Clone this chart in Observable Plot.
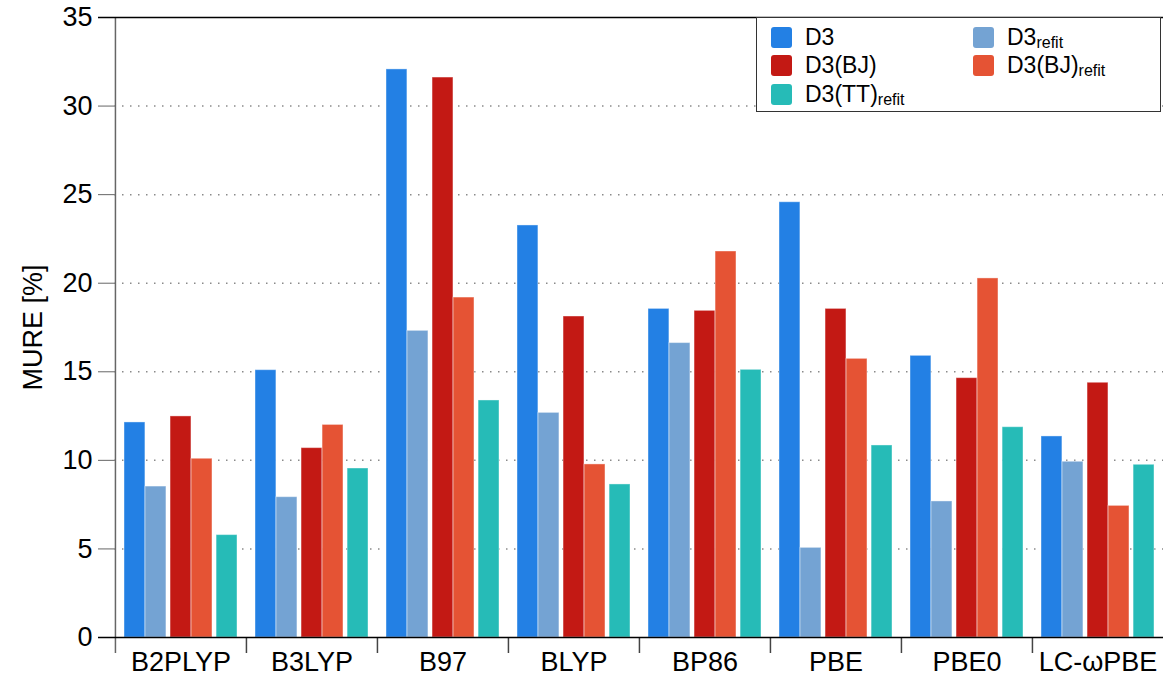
<!DOCTYPE html>
<html>
<head>
<meta charset="utf-8">
<script src="https://cdn.jsdelivr.net/npm/d3@7"></script>
<script src="https://cdn.jsdelivr.net/npm/@observablehq/plot@0.6"></script>
<style>
  body { margin: 0; background: #fff; font-family: "Liberation Sans", Arial, Helvetica, sans-serif; }
  #wrap { position: relative; width: 1163px; height: 681px; }
  #wrap svg { position: absolute; left: 0; top: 0; }
  .legend { position: absolute; left: 756px; top: 17px; width: 405px; height: 95px;
            box-sizing: border-box; border: 1.5px solid #333; background: #fff; }
  .item { position: absolute; display: flex; align-items: center; height: 24px;
          font-size: 23px; color: #000; white-space: nowrap; }
  .sw { width: 21px; height: 21px; border-radius: 3px; margin-right: 13px; flex: none; }
  .sub { font-size: 16px; position: relative; top: 6px; }
</style>
</head>
<body>
<div id="wrap"></div>
<script>
// Functionals on the x axis
const functionals = ["B2PLYP", "B3LYP", "B97", "BLYP", "BP86", "PBE", "PBE0", "LC-ωPBE"];

// MURE [%] per dispersion correction, in functional order
const d3Values      = [12.14, 15.09, 32.07, 23.26, 18.55, 24.57, 15.90, 11.35];
const d3RefitValues = [ 8.52,  7.92, 17.31, 12.68, 16.62,  5.06,  7.68,  9.92];
const bjValues      = [12.48, 10.69, 31.61, 18.12, 18.44, 18.55, 14.64, 14.38];
const bjRefitValues = [10.09, 12.00, 19.19,  9.77, 21.79, 15.73, 20.27,  7.43];
const ttRefitValues = [ 5.78,  9.54, 13.38,  8.64, 15.11, 10.84, 11.87,  9.75];

// Y axis ticks
const yTicks = [0, 5, 10, 15, 20, 25, 30, 35];

const series = [
  { name: "D3",         base: "D3",     sub: "",      values: d3Values,      color: "#2380e4" },
  { name: "D3refit",    base: "D3",     sub: "refit", values: d3RefitValues, color: "#74a3d3" },
  { name: "D3(BJ)",     base: "D3(BJ)", sub: "",      values: bjValues,      color: "#c31914" },
  { name: "D3(BJ)refit",base: "D3(BJ)", sub: "refit", values: bjRefitValues, color: "#e55334" },
  { name: "D3(TT)refit",base: "D3(TT)", sub: "refit", values: ttRefitValues, color: "#26bbb7" }
];

// Layout
const W = 1163, H = 681;
const mLeft = 114, mRight = 0, mTop = 17, mBottom = 44;
const bw = (W - mLeft - mRight) / functionals.length;   // group width
const barW = 21 / 131 * bw;
// bar slot starts inside a group: two adjacent pairs and a single bar
const slotStart = [9, 30, 55, 76, 101].map(s => s / 131 * bw);

const barMarks = series.map((s, i) =>
  Plot.barY(functionals.map((f, j) => ({ functional: f, value: s.values[j] })), {
    x: "functional",
    y: "value",
    fill: s.color,
    stroke: "white",
    strokeOpacity: 0.4,
    strokeWidth: 1,
    insetLeft: slotStart[i],
    insetRight: bw - slotStart[i] - barW
  })
);

const chart = Plot.plot({
  width: W,
  height: H,
  marginLeft: mLeft,
  marginRight: mRight,
  marginTop: mTop,
  marginBottom: mBottom,
  style: { fontFamily: "'Liberation Sans', Arial, Helvetica, sans-serif", color: "#000", background: "transparent" },
  x: { domain: functionals, padding: 0 },
  y: { domain: [0, 35] },
  marks: [
    Plot.gridY(yTicks.slice(1, -1), { stroke: "#8a8a8a", strokeOpacity: 1, strokeWidth: 1.5, strokeDasharray: "1.5,6.5" }),
    ...barMarks,
    Plot.axisY(yTicks, {
      tickSize: 16, tickPadding: 6, fontSize: 27, stroke: "#666",
      label: "MURE [%]", labelAnchor: "center", labelArrow: "none", labelOffset: 92
    }),
    Plot.axisX({ tickSize: 0, tickPadding: 14, fontSize: 27, label: null }),
    // group separators below the x axis
    Plot.ruleX(functionals.slice(1), { dx: -bw / 2, stroke: "#444", strokeWidth: 1.5, insetTop: H - mTop - mBottom, insetBottom: -16 }),
    // left axis line, running down past zero
    Plot.ruleX([functionals[0]], { dx: -bw / 2, stroke: "#666", strokeWidth: 1.5, insetBottom: -16 }),
    Plot.ruleY([0, 35], { stroke: "#000", strokeWidth: 1.5, insetLeft: -16 })
  ]
});

const wrap = document.getElementById("wrap");
wrap.appendChild(chart);

// Legend box in the upper right of the plot area
const legend = document.createElement("div");
legend.className = "legend";
const pos = [[14, 7], [216, 7], [14, 35], [216, 35], [14, 64]];
const order = [0, 1, 2, 3, 4];
order.forEach((k, i) => {
  const s = series[k];
  const item = document.createElement("div");
  item.className = "item";
  item.style.left = pos[i][0] + "px";
  item.style.top = pos[i][1] + "px";
  item.innerHTML = `<span class="sw" style="background:${s.color}"></span><span>${s.base}</span>` +
    (s.sub ? `<span class="sub">${s.sub}</span>` : "");
  legend.appendChild(item);
});
wrap.appendChild(legend);
</script>
</body>
</html>
